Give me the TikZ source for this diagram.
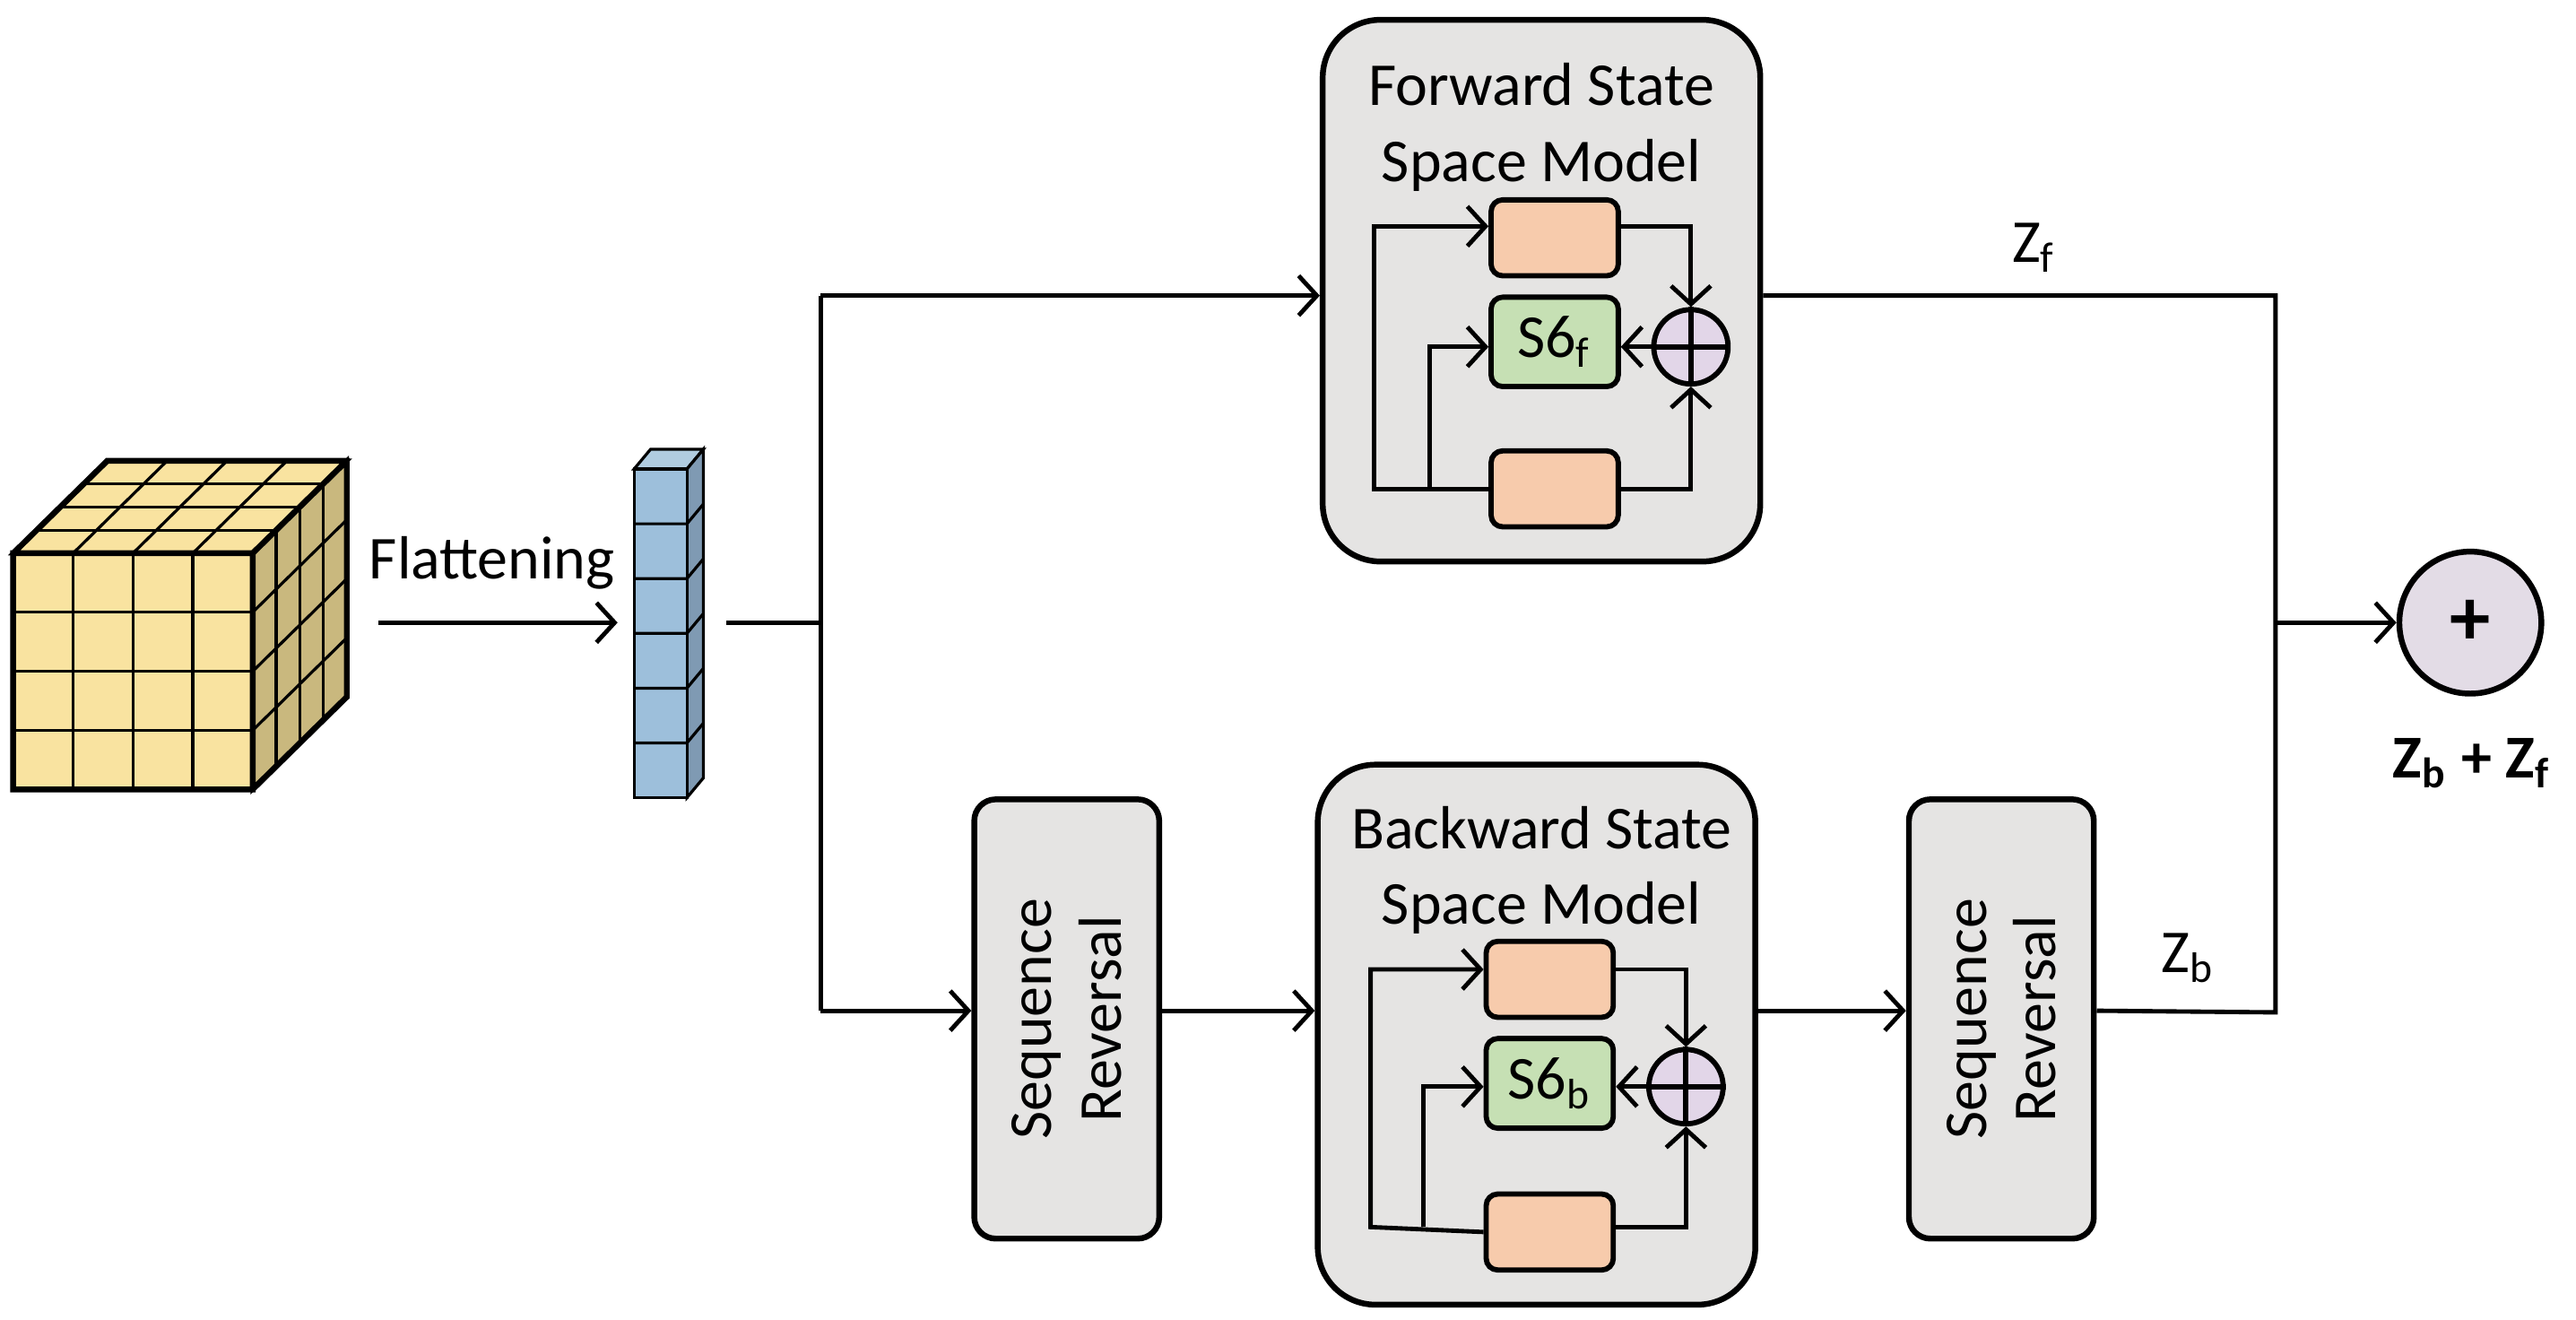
\documentclass[tikz,border=0pt]{standalone}
\usepackage{fontspec}
\setmainfont{Carlito}
\usetikzlibrary{arrows.meta}
\definecolor{boxgray}{HTML}{E5E4E3}
\definecolor{orng}{HTML}{F7CBAC}
\definecolor{grn}{HTML}{C6E0B4}
\definecolor{lav}{HTML}{E2D6E8}
\definecolor{cubef}{HTML}{F9E3A0}
\definecolor{cubes}{HTML}{C9B87E}
\definecolor{colf}{HTML}{9DBFDB}
\definecolor{cols}{HTML}{7F9AB3}
\definecolor{colt}{HTML}{B0CCE0}
\tikzset{
  ln/.style={line width=0.75pt},
  arr/.style={ln,-{Straight Barb[length=1.1mm,width=2.4mm,line width=0.75pt]}},
  bigbox/.style={draw,line width=1pt,fill=boxgray,rounded corners=3.5mm},
  seqbox/.style={draw,line width=1pt,fill=boxgray,rounded corners=1.3mm},
  ob/.style={draw,line width=0.9pt,fill=orng,rounded corners=0.7mm},
  gb/.style={draw,line width=0.9pt,fill=grn,rounded corners=0.7mm},
  txt/.style={font=\fontsize{9.5}{11}\selectfont,align=center},
}
\begin{document}
\begin{tikzpicture}[x=0.1mm,y=-0.1mm]
\useasboundingbox (0,0) rectangle (1560,799);
% cube
\def\dx{57}\def\dy{-56}
\fill[cubef,draw=black,ln] (8,335) rectangle (153,478);
\fill[cubef,draw=black,ln] (8,335) -- (153,335) -- (210,279) -- (65,279) -- cycle;
\fill[cubes,draw=black,ln] (153,335) -- (210,279) -- (210,422) -- (153,478) -- cycle;
\foreach \i in {1,2,3}{
  \draw[line width=0.5pt] ({8+\i*36.25},335) -- ({8+\i*36.25},478);
  \draw[line width=0.5pt] (8,{335+\i*35.75}) -- (153,{335+\i*35.75});
  \draw[line width=0.5pt] ({8+\i*36.25},335) -- ({65+\i*36.25},279);
  \draw[line width=0.5pt] ({8+\i*14.25},{335-\i*14}) -- ({153+\i*14.25},{335-\i*14});
  \draw[line width=0.5pt] ({153+\i*14.25},{335-\i*14}) -- ({153+\i*14.25},{478-\i*14});
  \draw[line width=0.5pt] (153,{335+\i*35.75}) -- (210,{279+\i*35.75});
}
\draw[line width=1pt] (8,335) rectangle (153,478) (8,335) -- (65,279) -- (210,279) -- (210,422) -- (153,478) (153,335) -- (210,279);
% column
\fill[colt,draw=black,line width=0.5pt] (384,284) -- (416,284) -- (426,272) -- (394,272) -- cycle;
\fill[cols,draw=black,line width=0.5pt] (416,284) -- (426,272) -- (426,471) -- (416,483) -- cycle;
\fill[colf,draw=black,line width=0.5pt] (384,284) rectangle (416,483);
\foreach \i in {1,...,5}{
  \draw[line width=0.5pt] (384,{284+\i*33.17}) -- (416,{284+\i*33.17}) -- (426,{272+\i*33.17});
}
\node[txt,font=\fontsize{10.5}{12}\selectfont] (flat) at (298,341) {Flattening};
\coordinate (fa) at (229,377);
\coordinate (fb) at (374,377);
\draw[arr] (fa) -- (fb);
\coordinate (c0) at (440,377);
\coordinate (sp) at (497,377);
\draw[ln] (c0) -- (sp);
% forward box
\node[bigbox,minimum width=26.5mm,minimum height=32.8mm] (fwd) at (933.5,176) {};
\node[txt,font=\fontsize{10.5}{13}\selectfont,anchor=north] (fwdt) at (933.5,26) {Forward State\\Space Model};
\node[ob,minimum width=7.7mm,minimum height=4.6mm] (fo1) at (941.5,144) {};
\node[gb,minimum width=7.7mm,minimum height=4.6mm,txt,font=\fontsize{10.5}{12}\selectfont] (fs) at (941.5,207) {S6\textsubscript{f}};
\node[ob,minimum width=7.7mm,minimum height=4.6mm] (fo2) at (941.5,296) {};
\node[circle,draw,line width=0.9pt,fill=lav,minimum size=4.5mm,inner sep=0] (fc) at (1024,210) {};
\draw[line width=0.9pt] (fc.north) -- (fc.south) (fc.west) -- (fc.east);
\draw[arr] (fo2.west) -- (832,296) -- (832,137) -- (fo1.west |- 0,137);
\draw[arr] (866,296) -- (866,210) -- (fs.west |- 0,210);
\draw[arr] (fo1.east |- 0,137) -- (1024,137) -- (fc.north);
\draw[arr] (fo2.east) -- (1024,296) -- (fc.south);
\draw[arr] (fc.west) -- (fs.east |- fc.west);
% backward box
\node[bigbox,minimum width=26.5mm,minimum height=32.7mm] (bwd) at (930.5,626.5) {};
\node[txt,font=\fontsize{10.5}{13}\selectfont,anchor=north] (bwdt) at (933.5,476) {Backward State\\Space Model};
\node[ob,minimum width=7.7mm,minimum height=4.6mm] (bo1) at (938.5,593) {};
\node[gb,minimum width=7.7mm,minimum height=4.6mm,txt,font=\fontsize{10.5}{12}\selectfont] (bs) at (938.5,656) {S6\textsubscript{b}};
\node[ob,minimum width=7.7mm,minimum height=4.6mm] (bo2) at (938.5,746) {};
\node[circle,draw,line width=0.9pt,fill=lav,minimum size=4.5mm,inner sep=0] (bc) at (1021,658) {};
\draw[line width=0.9pt] (bc.north) -- (bc.south) (bc.west) -- (bc.east);
\draw[arr] (bo2.west) -- (830,743) -- (830,587) -- (bo1.west |- 0,587);
\draw[arr] (862,743) -- (862,658) -- (bs.west |- 0,658);
\draw[arr] (bo1.east |- 0,587) -- (1021,587) -- (bc.north);
\draw[arr] (bo2.east |- 0,743) -- (1021,743) -- (bc.south);
\draw[arr] (bc.west) -- (bs.east |- bc.west);
% sequence reversal boxes
\node[seqbox,minimum width=11.2mm,minimum height=26.6mm] (sr1) at (646,617) {};
\node[txt,font=\fontsize{10.5}{12}\selectfont,rotate=90] (sr1t) at (646,617) {Sequence\\Reversal};
\node[seqbox,minimum width=11.2mm,minimum height=26.6mm] (sr2) at (1212,617) {};
\node[txt,font=\fontsize{10.5}{12}\selectfont,rotate=90] (sr2t) at (1212,617) {Sequence\\Reversal};
% main connectors
\draw[arr] (497,179) -- (497,179 -| fwd.west);
\draw[ln] (497,179) -- (497,612);
\draw[arr] (497,612) -- (sr1.west |- 0,612);
\draw[arr] (sr1.east |- 0,612) -- (bwd.west |- 0,612);
\draw[arr] (bwd.east |- 0,612) -- (sr2.west |- 0,612);
\coordinate (jr) at (1378,377);
\draw[ln] (fwd.east |- 0,179) -- (1378,179) -- (1378,613) -- (sr2.east |- 0,612);
\node[txt,font=\fontsize{10.5}{12}\selectfont] (zf) at (1232,150) {Z\textsubscript{f}};
\node[txt,font=\fontsize{10.5}{12}\selectfont] (zb) at (1325,580) {Z\textsubscript{b}};
\node[circle,draw,line width=1pt,fill=lav!60!boxgray,minimum size=8.6mm,inner sep=0,font=\fontsize{14}{14}\selectfont\bfseries] (sum) at (1496,377) {+};
\draw[arr] (jr) -- (sum.west);
\node[txt,font=\fontsize{10.5}{12}\selectfont\bfseries] (sumt) at (1497,462) {Z\textsubscript{b} + Z\textsubscript{f}};
\end{tikzpicture}
\end{document}
